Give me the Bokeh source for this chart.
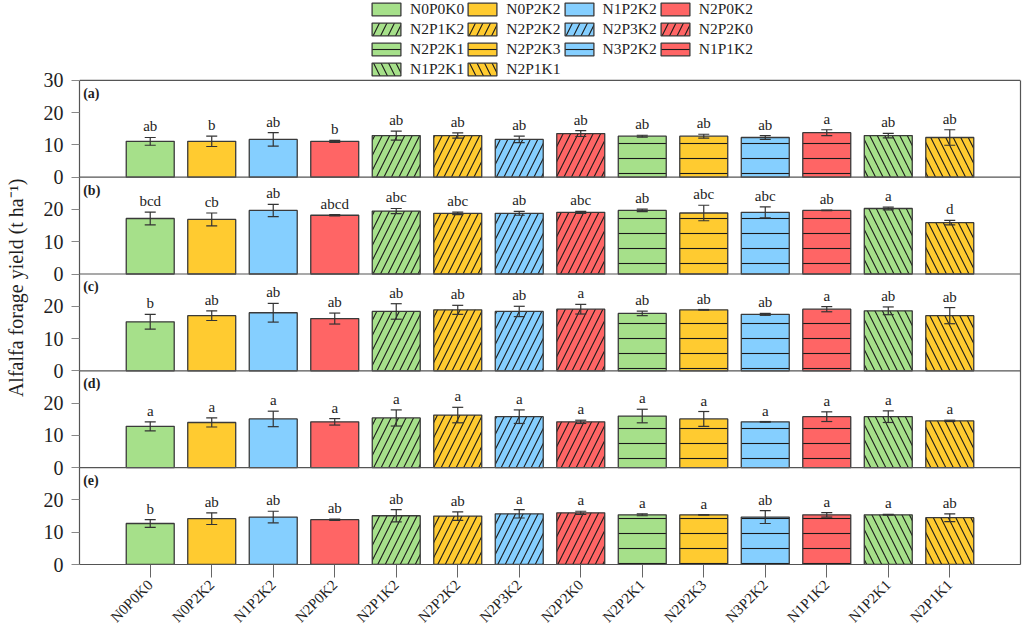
from math import pi

from bokeh.core.properties import value
from bokeh.embed import file_html
from bokeh.layouts import row
from bokeh.models import (ColumnDataSource, FactorRange, FixedTicker, Label, Legend,
                          LegendItem, LinearAxis, Range1d, Span, TeeHead, Whisker)
from bokeh.plotting import figure
from bokeh.resources import INLINE

FONT = "Liberation Serif"

# ---- data -----------------------------------------------------------------
treatments = ["N0P0K0", "N0P2K2", "N1P2K2", "N2P0K2", "N2P1K2", "N2P2K2", "N2P3K2",
              "N2P2K0", "N2P2K1", "N2P2K3", "N3P2K2", "N1P1K2", "N1P2K1", "N2P1K1"]

panel_tags = ["(a)", "(b)", "(c)", "(d)", "(e)"]

yield_a = [11.1, 11.1, 11.7, 11.1, 12.9, 12.9, 11.7, 13.5, 12.7, 12.7, 12.3, 13.8, 12.9, 12.3]
sd_a = [1.2, 1.6, 2.1, 0.3, 1.4, 0.8, 1.0, 0.9, 0.3, 0.6, 0.6, 0.9, 0.7, 2.4]
letters_a = ["ab", "b", "ab", "b", "ab", "ab", "ab", "ab", "ab", "ab", "ab", "a", "ab", "ab"]

yield_b = [17.2, 16.9, 19.7, 18.2, 19.5, 18.8, 18.8, 19.1, 19.7, 18.9, 19.1, 19.7, 20.3, 15.9]
sd_b = [2.0, 2.0, 1.9, 0.2, 0.8, 0.4, 0.6, 0.3, 0.4, 2.4, 1.7, 0.1, 0.4, 0.7]
letters_b = ["bcd", "cb", "ab", "abcd", "abc", "abc", "ab", "abc", "ab", "abc", "abc", "ab", "a", "d"]

yield_c = [15.2, 17.1, 18.0, 16.2, 18.4, 18.9, 18.4, 19.1, 17.8, 18.9, 17.5, 19.1, 18.6, 17.1]
sd_c = [2.3, 1.5, 2.9, 1.7, 2.4, 1.4, 1.6, 1.5, 0.7, 0.1, 0.3, 0.8, 1.2, 2.5]
letters_c = ["b", "ab", "ab", "ab", "ab", "ab", "ab", "a", "ab", "ab", "ab", "a", "ab", "ab"]

yield_d = [12.8, 14.0, 15.1, 14.2, 15.4, 16.3, 15.8, 14.2, 16.0, 15.1, 14.2, 15.8, 15.8, 14.5]
sd_d = [1.4, 1.4, 2.4, 1.0, 2.5, 2.4, 2.1, 0.5, 2.1, 2.3, 0.1, 1.5, 1.8, 0.2]
letters_d = ["a"] * 14

yield_e = [12.7, 14.2, 14.7, 13.9, 15.1, 15.0, 15.7, 16.0, 15.4, 15.4, 14.7, 15.4, 15.4, 14.5]
sd_e = [1.2, 1.8, 1.8, 0.2, 1.9, 1.3, 1.3, 0.5, 0.3, 0.0, 2.0, 0.7, 0.1, 1.2]
letters_e = ["b", "ab", "ab", "ab", "ab", "ab", "a", "a", "a", "a", "ab", "a", "a", "ab"]

panel_yields = [yield_a, yield_b, yield_c, yield_d, yield_e]
panel_sds = [sd_a, sd_b, sd_c, sd_d, sd_e]
panel_letters = [letters_a, letters_b, letters_c, letters_d, letters_e]

y_tick_values = [0, 10, 20, 30]
panel_max = 30
y_title = "Alfalfa forage yield (t ha\u207b\u00b9)"

# ---- styling --------------------------------------------------------------
GREEN, YELLOW, BLUE, RED = "#A6E08A", "#FFCB30", "#85CFFF", "#FF6565"
bar_colors = [GREEN, YELLOW, BLUE, RED] * 3 + [GREEN, YELLOW]
bar_hatches = [" "] * 4 + ["/"] * 4 + ["-"] * 4 + ["\\"] * 2
EDGE = "#3a3a3a"
AXIS = "#555555"
TEXT = "#1e1e1e"

H = 633
TITLE_W = 40                       # strip on the far left holding the y title
MAIN_W = 1024 - TITLE_W
LEGEND_PX, BOTTOM, LEFT, RIGHT = 80, 68, 38, 4
frame_px = H - BOTTOM              # frame runs from the top of the canvas
panels_px = frame_px - LEGEND_PX   # lower part holds the five panels

n_panels = len(panel_tags)
y_total = panel_max * n_panels
y_span = y_total * frame_px / panels_px   # leaves room for the legend strip

# each panel gets its own 0-30 scale, stacked inside one shared frame
extra_ranges = {}
for k in range(n_panels):
    shift = (n_panels - 1 - k) * panel_max
    extra_ranges[f"panel{k}"] = Range1d(-shift, y_span - shift)

p = figure(width=MAIN_W, height=H,
           x_range=FactorRange(factors=treatments, range_padding=0.65,
                               range_padding_units="absolute"),
           y_range=Range1d(0, y_span),
           output_backend="svg", toolbar_location=None,
           min_border_left=LEFT, min_border_right=RIGHT,
           min_border_top=0, min_border_bottom=BOTTOM)
p.extra_y_ranges = extra_ranges
p.xgrid.visible = False
p.ygrid.visible = False
p.outline_line_color = None

ticks, tick_labels = [], {}
first_bars = None
for k in range(n_panels):
    shift = (n_panels - 1 - k) * panel_max
    rname = f"panel{k}"

    for t in y_tick_values:
        pos = shift + t
        if pos not in tick_labels:
            ticks.append(pos)
            tick_labels[pos] = str(t)

    vals, sds = panel_yields[k], panel_sds[k]
    src = ColumnDataSource(dict(
        trt=treatments, yld=vals,
        upper=[v + s for v, s in zip(vals, sds)],
        lower=[v - s for v, s in zip(vals, sds)],
        letter=panel_letters[k],
        color=bar_colors, hatch=bar_hatches,
    ))

    bars = p.vbar(x="trt", top="yld", width=0.78, source=src, y_range_name=rname,
                  fill_color="color", line_color=EDGE, line_width=1.3,
                  hatch_pattern="hatch", hatch_scale=15, hatch_color="#1a1a1a",
                  hatch_weight=1.1)
    if first_bars is None:
        first_bars = bars

    whisk = Whisker(source=src, base="trt", upper="upper", lower="lower",
                    y_range_name=rname, level="annotation",
                    line_color="#333333", line_width=1.2,
                    upper_head=TeeHead(size=11, line_color="#333333", line_width=1.2),
                    lower_head=TeeHead(size=11, line_color="#333333", line_width=1.2))
    p.add_layout(whisk)

    p.text(x="trt", y="upper", text="letter", source=src, y_range_name=rname,
           text_align="center", text_baseline="bottom", y_offset=-3,
           text_font=value(FONT), text_font_size="15px", text_color=TEXT)

    p.add_layout(Span(location=0, dimension="width", y_range_name=rname,
                      line_color=AXIS, line_width=1.2))

    p.add_layout(Label(x=-0.59, y=26, y_range_name=rname, text=panel_tags[k],
                       text_font=FONT, text_font_size="14px", text_font_style="bold",
                       text_baseline="middle", text_color=TEXT))

# top edge of the uppermost panel
p.add_layout(Span(location=panel_max, dimension="width", y_range_name="panel0",
                  line_color=AXIS, line_width=1.2))

# ---- axes -----------------------------------------------------------------
yax = p.yaxis[0]
yax.bounds = (0, y_total)
yax.ticker = FixedTicker(ticks=ticks, minor_ticks=[])
yax.major_label_overrides = tick_labels
yax.major_tick_in = 0
yax.major_tick_out = 8
yax.major_tick_line_color = "#888888"
yax.minor_tick_line_color = None
yax.axis_line_color = AXIS
yax.axis_line_width = 1.2
yax.major_label_standoff = 8
yax.major_label_text_font = FONT
yax.major_label_text_font_size = "20px"
yax.major_label_text_color = TEXT

# plain right-hand border for the panel block
right_edge = LinearAxis(bounds=(0, y_total), ticker=FixedTicker(ticks=[]),
                        axis_line_color=AXIS, axis_line_width=1.2,
                        major_tick_line_color=None, minor_tick_line_color=None)
p.add_layout(right_edge, "right")

xax = p.xaxis[0]
xax.major_label_orientation = pi / 4
xax.major_tick_in = 0
xax.major_tick_out = 13
xax.major_tick_line_color = "#666666"
xax.axis_line_color = AXIS
xax.axis_line_width = 1.2
xax.major_label_standoff = 5
xax.major_label_text_font = FONT
xax.major_label_text_font_size = "15px"
xax.major_label_text_color = TEXT

# ---- legend (top strip of the frame) --------------------------------------
legend = Legend(
    items=[LegendItem(label=value(t), renderers=[first_bars], index=i)
           for i, t in enumerate(treatments)],
    orientation="horizontal", ncols=4, location=(289, panels_px),
    glyph_width=36, glyph_height=16, label_standoff=6, label_height=20,
    spacing=0, padding=0, margin=0,
    border_line_alpha=0, background_fill_alpha=0,
    label_text_font=FONT, label_text_font_size="15.5px", label_text_color=TEXT,
)
p.add_layout(legend)

# ---- shared y title, centred on the panel block ----------------------------
title_fig = figure(width=TITLE_W, height=H, x_range=Range1d(0, TITLE_W),
                   y_range=Range1d(0, H), output_backend="svg", toolbar_location=None,
                   x_axis_location=None, y_axis_location=None,
                   min_border=0, outline_line_color=None)
title_fig.xgrid.visible = False
title_fig.ygrid.visible = False
title_center = BOTTOM + panels_px / 2
title_fig.add_layout(Label(x=15, y=title_center, text=y_title, angle=pi / 2,
                           text_align="center", text_baseline="middle",
                           text_font=FONT, text_font_size="20px", text_color=TEXT))

layout = row(title_fig, p, spacing=0)
open("out.html", "w").write(file_html(layout, INLINE))
